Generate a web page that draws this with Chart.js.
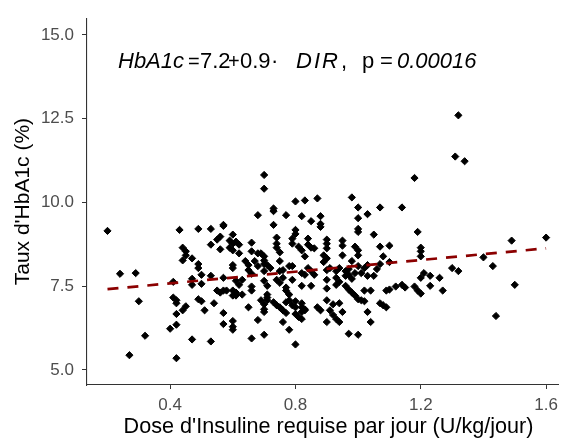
<!DOCTYPE html>
<html>
<head>
<meta charset="utf-8">
<title>HbA1c vs DIR</title>
<script src="https://cdn.jsdelivr.net/npm/chart.js@4.4.1/dist/chart.umd.min.js"></script>
<style>
  html, body { margin: 0; padding: 0; background: #fff; overflow: hidden; }
  #wrap { width: 563px; height: 441px; position: relative; }
</style>
</head>
<body>
<div id="wrap"><canvas id="scatterChart"></canvas></div>
<script>
// ---- data ----
const doseValues = [
  0.20, 0.24, 0.29, 0.30, 0.32, 0.27, 0.40, 0.43, 0.49, 0.53,
  0.44, 0.45, 0.45, 0.47, 0.44, 0.49, 0.49, 0.50, 0.53, 0.41,
  0.47, 0.47, 0.50, 0.41, 0.42, 0.42, 0.45, 0.44, 0.42, 0.49,
  0.50, 0.51, 0.42, 0.47, 0.53, 0.42, 0.54, 0.53, 0.55, 0.56,
  0.57, 0.57, 0.60, 0.59, 0.60, 0.61, 0.62, 0.56, 0.59, 0.60,
  0.62, 0.66, 0.66, 0.68, 0.69, 0.70, 0.60, 0.60, 0.64, 0.65,
  0.67, 0.68, 0.70, 0.70, 0.65, 0.70, 0.57, 0.61, 0.62, 0.63,
  0.66, 0.55, 0.56, 0.57, 0.58, 0.60, 0.61, 0.61, 0.60, 0.63,
  0.66, 0.66, 0.57, 0.57, 0.60, 0.60, 0.60, 0.65, 0.68, 0.66,
  0.70, 0.69, 0.70, 0.71, 0.70, 0.70, 0.70, 0.70, 0.73, 0.73,
  0.68, 0.77, 0.80, 0.73, 0.74, 0.74, 0.80, 0.80, 0.79, 0.79,
  0.81, 0.82, 0.74, 0.75, 0.71, 0.72, 0.75, 0.76, 0.75, 0.78,
  0.79, 0.70, 0.71, 0.74, 0.75, 0.76, 0.79, 0.77, 0.77, 0.78,
  0.71, 0.71, 0.73, 0.74, 0.75, 0.76, 0.77, 0.78, 0.79, 0.80,
  0.80, 0.82, 0.82, 0.77, 0.80, 0.81, 0.82, 0.76, 0.78, 0.80,
  0.83, 0.83, 0.87, 0.82, 0.85, 0.88, 0.88, 0.88, 0.84, 0.84,
  0.85, 0.86, 0.90, 0.90, 0.90, 0.89, 0.90, 0.89, 0.95, 0.95,
  0.83, 0.95, 0.84, 0.85, 0.83, 0.82, 0.86, 0.90, 0.91, 0.93,
  0.94, 0.90, 0.93, 0.94, 0.93, 0.82, 0.85, 0.90, 0.83, 0.82,
  0.87, 0.88, 0.90, 0.92, 0.94, 0.95, 0.91, 0.92, 0.93, 0.94,
  0.90, 0.98, 1.00, 1.07, 1.14, 1.00, 1.03, 1.00, 1.00, 1.05,
  0.99, 1.00, 1.00, 1.07, 1.10, 1.08, 1.10, 0.96, 0.97, 0.97,
  0.96, 0.98, 0.99, 0.98, 1.00, 1.02, 1.01, 1.03, 1.03, 1.05,
  1.06, 1.07, 0.96, 0.97, 0.98, 0.99, 1.00, 1.01, 1.02, 1.02,
  1.04, 1.09, 1.10, 1.12, 1.14, 1.15, 1.07, 1.08, 1.09, 1.03,
  1.04, 0.97, 1.00, 1.18, 1.32, 1.31, 1.34, 1.19, 1.20, 1.20,
  1.20, 1.18, 1.19, 1.20, 1.21, 1.23, 1.20, 1.23, 1.26, 1.27,
  1.30, 1.32, 1.40, 1.43, 1.49, 1.60, 1.50, 1.44
];
const hba1cValues = [
  9.15, 7.87, 7.89, 7.05, 6.02, 5.44, 6.23, 9.18, 9.21, 9.21,
  8.65, 8.54, 8.42, 8.33, 8.27, 8.16, 8.04, 7.84, 7.81, 7.63,
  7.72, 7.54, 7.57, 7.16, 7.08, 6.99, 6.90, 6.78, 6.67, 7.11,
  7.05, 6.78, 6.35, 5.91, 5.85, 5.35, 6.99, 8.74, 8.89, 8.98,
  9.33, 9.30, 9.04, 8.86, 8.77, 8.83, 8.74, 8.60, 8.65, 8.57,
  8.48, 8.80, 8.54, 8.48, 8.48, 8.39, 8.13, 8.04, 8.25, 8.13,
  8.25, 8.10, 8.27, 8.16, 7.98, 7.95, 7.75, 7.66, 7.54, 7.69,
  7.87, 7.37, 7.31, 7.37, 7.37, 7.37, 7.31, 7.22, 7.22, 7.25,
  7.49, 7.37, 6.70, 6.37, 6.46, 6.29, 6.20, 6.87, 6.49, 5.94,
  6.05, 7.08, 6.96, 7.08, 6.81, 6.73, 10.82, 10.41, 9.82, 9.74,
  9.62, 9.62, 10.03, 9.33, 8.95, 8.77, 9.18, 9.06, 8.92, 8.77,
  8.68, 8.57, 8.65, 8.51, 8.13, 8.04, 8.25, 7.98, 7.95, 8.10,
  8.10, 7.66, 7.51, 7.69, 7.60, 7.75, 7.69, 7.46, 7.37, 7.25,
  7.25, 7.16, 7.02, 6.93, 6.87, 6.78, 7.02, 7.08, 6.93, 6.87,
  7.05, 6.87, 6.99, 6.70, 6.67, 6.58, 6.52, 6.43, 6.20, 5.76,
  6.81, 10.06, 10.12, 9.59, 9.44, 9.59, 9.36, 9.27, 8.92, 8.74,
  8.65, 8.63, 8.89, 8.77, 8.63, 8.42, 8.33, 8.22, 8.86, 8.71,
  8.39, 8.42, 8.04, 7.95, 7.84, 7.89, 7.84, 7.98, 8.04, 7.95,
  8.04, 7.69, 7.75, 7.63, 7.54, 7.51, 7.51, 7.43, 6.78, 6.73,
  6.87, 6.78, 7.08, 6.96, 6.99, 6.73, 6.78, 6.64, 6.52, 6.43,
  6.43, 10.15, 9.85, 9.85, 9.85, 9.53, 9.65, 9.21, 9.12, 9.04,
  8.68, 8.57, 8.42, 8.68, 8.71, 8.39, 8.22, 7.95, 8.01, 7.84,
  7.81, 7.72, 7.89, 8.25, 8.10, 8.04, 7.89, 8.13, 7.81, 7.81,
  8.01, 8.16, 7.51, 7.40, 7.31, 7.22, 7.11, 7.08, 7.37, 7.05,
  7.37, 7.37, 7.40, 7.49, 7.54, 7.46, 6.99, 6.93, 6.87, 6.73,
  6.43, 6.08, 6.05, 10.73, 12.60, 11.37, 11.23, 9.12, 8.65, 8.54,
  8.39, 7.49, 7.37, 7.28, 7.89, 7.81, 7.75, 7.51, 7.75, 7.37,
  8.04, 7.95, 8.36, 8.10, 8.86, 8.95, 7.54, 6.61
];
// fitted line end points (dashed red)
const fitDose = [0.20, 1.60];
const fitHba1c = [7.41, 8.63];

const xTickValues = [0.4, 0.8, 1.2, 1.6];
const yTickValues = [5, 7.5, 10, 12.5, 15];

const FONT = '"Liberation Sans", Arial, sans-serif';

// equation label, drawn piece by piece (italic for variables)
const eqnParts = [
  { text: "HbA1c", italic: true, size: 22, x: 118 },
  { text: "=", italic: false, size: 20, x: 188 },
  { text: "7.2", italic: false, size: 22, x: 200 },
  { text: "+", italic: false, size: 20, x: 228 },
  { text: "0.9", italic: false, size: 22, x: 240 },
  { text: "\u00B7", italic: false, size: 22, x: 271 },
  { text: "D", italic: true, size: 22, x: 296 },
  { text: "I", italic: true, size: 22, x: 314 },
  { text: "R", italic: true, size: 22, x: 322 },
  { text: ",", italic: false, size: 22, x: 341 },
  { text: "p", italic: false, size: 22, x: 362 },
  { text: "=", italic: false, size: 22, x: 380 },
  { text: "0.00016", italic: true, size: 22, x: 397 }
];

const equationPlugin = {
  id: "equationLabel",
  afterDatasetsDraw(chart) {
    const ctx = chart.ctx;
    ctx.save();
    ctx.fillStyle = "#000";
    ctx.textBaseline = "alphabetic";
    ctx.textAlign = "left";
    eqnParts.forEach((p) => {
      ctx.font = (p.italic ? "italic " : "") + p.size + "px " + FONT;
      ctx.fillText(p.text, p.x, 68);
    });
    ctx.restore();
  }
};

const points = doseValues.map((d, i) => ({ x: d, y: hba1cValues[i] }));
const fitPoints = fitDose.map((d, i) => ({ x: d, y: fitHba1c[i] }));

new Chart(document.getElementById("scatterChart").getContext("2d"), {
  type: "scatter",
  data: {
    datasets: [
      {
        type: "line",
        data: fitPoints,
        borderColor: "#8B0000",
        borderWidth: 2.7,
        borderDash: [11, 9],
        pointRadius: 0,
        fill: false,
        order: 0
      },
      {
        data: points,
        pointStyle: "rectRot",
        pointRadius: 3.6,
        backgroundColor: "#000",
        borderColor: "#000",
        borderWidth: 1,
        order: 1
      }
    ]
  },
  options: {
    responsive: true,
    maintainAspectRatio: false,
    animation: false,
    layout: { padding: { top: 8, left: 0, right: 0, bottom: 0 } },
    plugins: {
      legend: { display: false },
      tooltip: { enabled: false }
    },
    scales: {
      x: {
        type: "linear",
        min: 0.1346,
        max: 1.638,
        afterBuildTicks: (scale) => {
          scale.ticks = xTickValues.map((v) => ({ value: v }));
        },
        afterFit: (scale) => {
          scale.height = 56;
          scale.paddingLeft = 0;
          scale.paddingRight = 0;
        },
        grid: {
          display: true,
          drawOnChartArea: false,
          drawTicks: true,
          tickLength: 4,
          color: "#333"
        },
        border: { display: true, color: "#333", width: 1.1 },
        ticks: {
          color: "#4D4D4D",
          font: { family: FONT, size: 17 },
          padding: 6,
          maxRotation: 0,
          callback: (v) => Number(v).toFixed(1)
        },
        title: {
          display: true,
          // leading spaces nudge the centred title right (panel is wider than the picture)
          text: "  Dose d'Insuline requise par jour (U/kg/jour)",
          color: "#000",
          font: { family: FONT, size: 21.6 },
          padding: { top: 0, bottom: 1 }
        }
      },
      y: {
        type: "linear",
        min: 4.55,
        max: 15.5,
        afterBuildTicks: (scale) => {
          scale.ticks = yTickValues.map((v) => ({ value: v }));
        },
        afterFit: (scale) => {
          scale.width = 87;
        },
        grid: {
          display: true,
          drawOnChartArea: false,
          drawTicks: true,
          tickLength: 5,
          color: "#333"
        },
        border: { display: true, color: "#333", width: 1.1 },
        ticks: {
          color: "#4D4D4D",
          font: { family: FONT, size: 17 },
          padding: 8,
          callback: (v) => Number(v).toFixed(1)
        },
        title: {
          display: true,
          text: "Taux d'HbA1c (%)",
          color: "#000",
          font: { family: FONT, size: 21 },
          padding: { top: 11, bottom: 0 }
        }
      }
    }
  },
  plugins: [equationPlugin]
});
</script>
</body>
</html>
